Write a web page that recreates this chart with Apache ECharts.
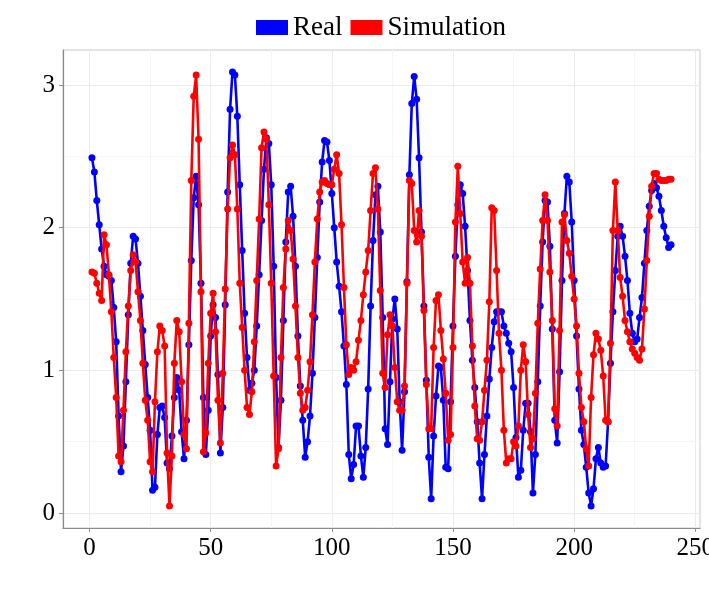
<!DOCTYPE html>
<html>
<head>
<meta charset="utf-8">
<script src="https://cdn.jsdelivr.net/npm/echarts@6/dist/echarts.min.js"></script>
<style>
  html, body { margin: 0; padding: 0; background: #fff; }
  #chart { width: 709px; height: 597px; }
</style>
</head>
<body>
<div id="chart"></div>
<script>
// measured series, index 1..240
const realValues = [
  2.49, 2.39, 2.19, 2.02, 1.85, 1.73, 1.67, 1.66, 1.63, 1.44,
  1.20, 0.68, 0.29, 0.47, 0.92, 1.39, 1.75, 1.94, 1.92, 1.75,
  1.52, 1.28, 1.04, 0.81, 0.58, 0.16, 0.18, 0.55, 0.74, 0.75,
  0.67, 0.35, 0.31, 0.54, 0.81, 0.95, 0.86, 0.57, 0.38, 0.65,
  1.18, 1.77, 2.21, 2.36, 2.16, 1.61, 0.81, 0.41, 0.72, 1.24,
  1.46, 1.37, 0.97, 0.42, 0.74, 1.46, 2.25, 2.83, 3.09, 3.07,
  2.78, 2.30, 1.84, 1.40, 1.09, 0.86, 0.91, 1.00, 1.31, 1.67,
  2.05, 2.41, 2.63, 2.59, 2.30, 1.73, 0.95, 0.46, 0.79, 1.35,
  1.90, 2.25, 2.29, 2.08, 1.73, 1.24, 0.89, 0.65, 0.39, 0.50,
  0.68, 0.98, 1.37, 1.79, 2.18, 2.46, 2.61, 2.60, 2.47, 2.24,
  2.00, 1.76, 1.59, 1.41, 1.17, 0.90, 0.41, 0.24, 0.34, 0.61,
  0.61, 0.40, 0.25, 0.46, 0.87, 1.45, 1.91, 2.23, 2.29, 1.97,
  1.37, 0.59, 0.48, 0.92, 1.36, 1.50, 1.29, 0.78, 0.44, 0.85,
  1.62, 2.37, 2.87, 3.06, 2.90, 2.49, 1.97, 1.45, 0.93, 0.39,
  0.10, 0.54, 0.82, 1.03, 1.02, 0.79, 0.32, 0.31, 0.78, 1.31,
  1.80, 2.16, 2.30, 2.24, 2.01, 1.70, 1.35, 1.07, 0.88, 0.64,
  0.35, 0.10, 0.41, 0.68, 0.94, 1.16, 1.34, 1.41, 1.41, 1.41,
  1.31, 1.26, 1.19, 1.13, 0.88, 0.53, 0.25, 0.30, 0.58, 0.77,
  0.77, 0.57, 0.14, 0.41, 0.92, 1.45, 1.90, 2.19, 2.18, 1.87,
  1.29, 0.65, 0.49, 0.99, 1.63, 2.10, 2.36, 2.32, 2.04, 1.63,
  1.24, 0.87, 0.58, 0.48, 0.32, 0.14, 0.05, 0.17, 0.38, 0.46,
  0.35, 0.32, 0.33, 0.64, 1.05, 1.41, 1.70, 1.94, 2.01, 1.94,
  1.80, 1.63, 1.40, 1.26, 1.20, 1.22, 1.37, 1.51, 1.75, 1.98,
  2.15, 2.26, 2.31, 2.28, 2.22, 2.12, 2.01, 1.93, 1.86, 1.88
];

const simValues = [
  1.69, 1.68, 1.61, 1.54, 1.49, 1.95, 1.88, 1.67, 1.41, 1.09,
  0.81, 0.40, 0.36, 0.72, 1.13, 1.45, 1.70, 1.81, 1.76, 1.55,
  1.35, 1.05, 0.79, 0.65, 0.36, 0.29, 0.78, 1.13, 1.31, 1.28,
  1.17, 0.42, 0.05, 0.40, 1.05, 1.35, 1.27, 0.92, 0.55, 0.45,
  1.33, 2.33, 2.92, 3.07, 2.62, 1.55, 0.43, 0.56, 1.05, 1.40,
  1.54, 1.27, 0.79, 0.49, 0.98, 1.57, 2.13, 2.49, 2.58, 2.51,
  2.13, 1.61, 1.30, 1.00, 0.74, 0.69, 0.85, 1.20, 1.63, 2.06,
  2.56, 2.67, 2.62, 2.16, 1.61, 0.96, 0.33, 0.45, 1.09, 1.58,
  1.85, 2.05, 1.98, 1.78, 1.45, 1.09, 0.84, 0.72, 0.74, 0.86,
  1.06, 1.39, 1.76, 2.06, 2.25, 2.32, 2.33, 2.31, 2.30, 2.30,
  2.41, 2.51, 2.38, 2.02, 1.58, 1.18, 0.97, 1.02, 1.00, 1.06,
  1.21, 1.35, 1.53, 1.69, 1.84, 2.12, 2.38, 2.42, 2.13, 1.56,
  0.98, 0.88, 1.25, 1.39, 1.31, 1.02, 0.78, 0.72, 0.72, 0.89,
  1.61, 2.33, 2.31, 1.98, 1.90, 2.12, 1.94, 1.42, 0.90, 0.59,
  0.59, 1.16, 1.49, 1.53, 1.28, 1.08, 0.84, 0.51, 0.55, 1.16,
  2.04, 2.43, 2.10, 1.76, 1.61, 1.79, 1.61, 1.17, 0.75, 0.52,
  0.51, 0.64, 0.86, 1.07, 1.48, 2.14, 2.12, 1.70, 1.26, 1.00,
  0.58, 0.35, 0.38, 0.38, 0.50, 0.47, 0.61, 1.00, 1.18, 1.06,
  0.69, 0.46, 0.52, 0.84, 1.33, 1.71, 2.05, 2.23, 2.05, 1.69,
  1.35, 0.73, 0.61, 1.28, 2.04, 2.09, 1.91, 1.82, 1.66, 1.50,
  1.31, 0.98, 0.74, 0.64, 0.45, 0.33, 0.81, 1.11, 1.26, 1.22,
  1.14, 0.96, 0.65, 0.64, 1.19, 1.98, 2.32, 1.98, 1.65, 1.52,
  1.35, 1.27, 1.20, 1.15, 1.12, 1.09, 1.07, 1.15, 1.43, 1.77,
  2.08, 2.29, 2.38, 2.38, 2.34, 2.33, 2.33, 2.33, 2.34, 2.34
];

const xTicks = [0, 50, 100, 150, 200, 250];
const xMinorGrid = [25, 75, 125, 175, 225];
const yTicks = [0, 1, 2, 3];
const yMinorGrid = [0.5, 1.5, 2.5];

const serif = 'Liberation Serif, Times New Roman, serif';

function pairs(vals) {
  const out = [];
  for (let i = 0; i < vals.length; i++) out.push([i + 1, vals[i]]);
  return out;
}

// panel grid drawn as mark lines underneath the data
const gridLines = [];
xTicks.forEach(v => gridLines.push({ xAxis: v, lineStyle: { color: '#ebebeb', width: 1, type: 'solid' } }));
xMinorGrid.forEach(v => gridLines.push({ xAxis: v, lineStyle: { color: '#f5f5f5', width: 1, type: 'solid' } }));
yTicks.forEach(v => gridLines.push({ yAxis: v, lineStyle: { color: '#ebebeb', width: 1, type: 'solid' } }));
yMinorGrid.forEach(v => gridLines.push({ yAxis: v, lineStyle: { color: '#f5f5f5', width: 1, type: 'solid' } }));

const myChart = echarts.init(document.getElementById('chart'), null, { renderer: 'canvas' });

const option = {
  animation: false,
  backgroundColor: '#fff',
  legend: {
    data: ['Real', 'Simulation'],
    left: 251,
    top: 9,
    icon: 'rect',
    itemWidth: 32,
    itemHeight: 15,
    itemGap: 8,
    textStyle: { fontFamily: serif, fontSize: 27, color: '#000' }
  },
  grid: {
    left: 63, right: 9, top: 50, bottom: 69,
    outerBoundsMode: 'none',
    containLabel: false,
    show: true,
    borderColor: '#c8c8c8',
    borderWidth: 1,
    backgroundColor: '#fff'
  },
  xAxis: {
    type: 'value',
    min: -10.95,
    max: 251.95,
    axisLine: { show: true, onZero: false, lineStyle: { color: '#8c8c8c', width: 1.2 } },
    axisTick: { show: true, length: 4, customValues: xTicks, lineStyle: { color: '#8c8c8c' } },
    axisLabel: { customValues: xTicks, fontFamily: serif, fontSize: 25, color: '#000', margin: 8, hideOverlap: false },
    splitLine: { show: false }
  },
  yAxis: {
    type: 'value',
    min: -0.105,
    max: 3.245,
    axisLine: { show: true, onZero: false, lineStyle: { color: '#8c8c8c', width: 1.2 } },
    axisTick: { show: true, length: 4, customValues: yTicks, lineStyle: { color: '#8c8c8c' } },
    axisLabel: { customValues: yTicks, fontFamily: serif, fontSize: 25, color: '#000', margin: 8 },
    splitLine: { show: false }
  },
  series: [
    {
      name: 'grid',
      type: 'line',
      data: [],
      z: 0,
      silent: true,
      markLine: {
        z: 0,
        silent: true,
        symbol: ['none', 'none'],
        label: { show: false },
        animation: false,
        data: gridLines
      }
    },
    {
      name: 'Real',
      type: 'line',
      data: pairs(realValues),
      z: 3,
      symbol: 'circle',
      symbolSize: 7,
      showSymbol: true,
      showAllSymbol: true,
      itemStyle: { color: '#0000ff', borderWidth: 0 },
      lineStyle: { color: '#0000ff', width: 2.6 }
    },
    {
      name: 'Simulation',
      type: 'line',
      data: pairs(simValues),
      z: 4,
      symbol: 'circle',
      symbolSize: 7,
      showSymbol: true,
      showAllSymbol: true,
      itemStyle: { color: '#ff0000', borderWidth: 0 },
      lineStyle: { color: '#ff0000', width: 2.6 }
    }
  ]
};

myChart.setOption(option);
</script>
</body>
</html>
